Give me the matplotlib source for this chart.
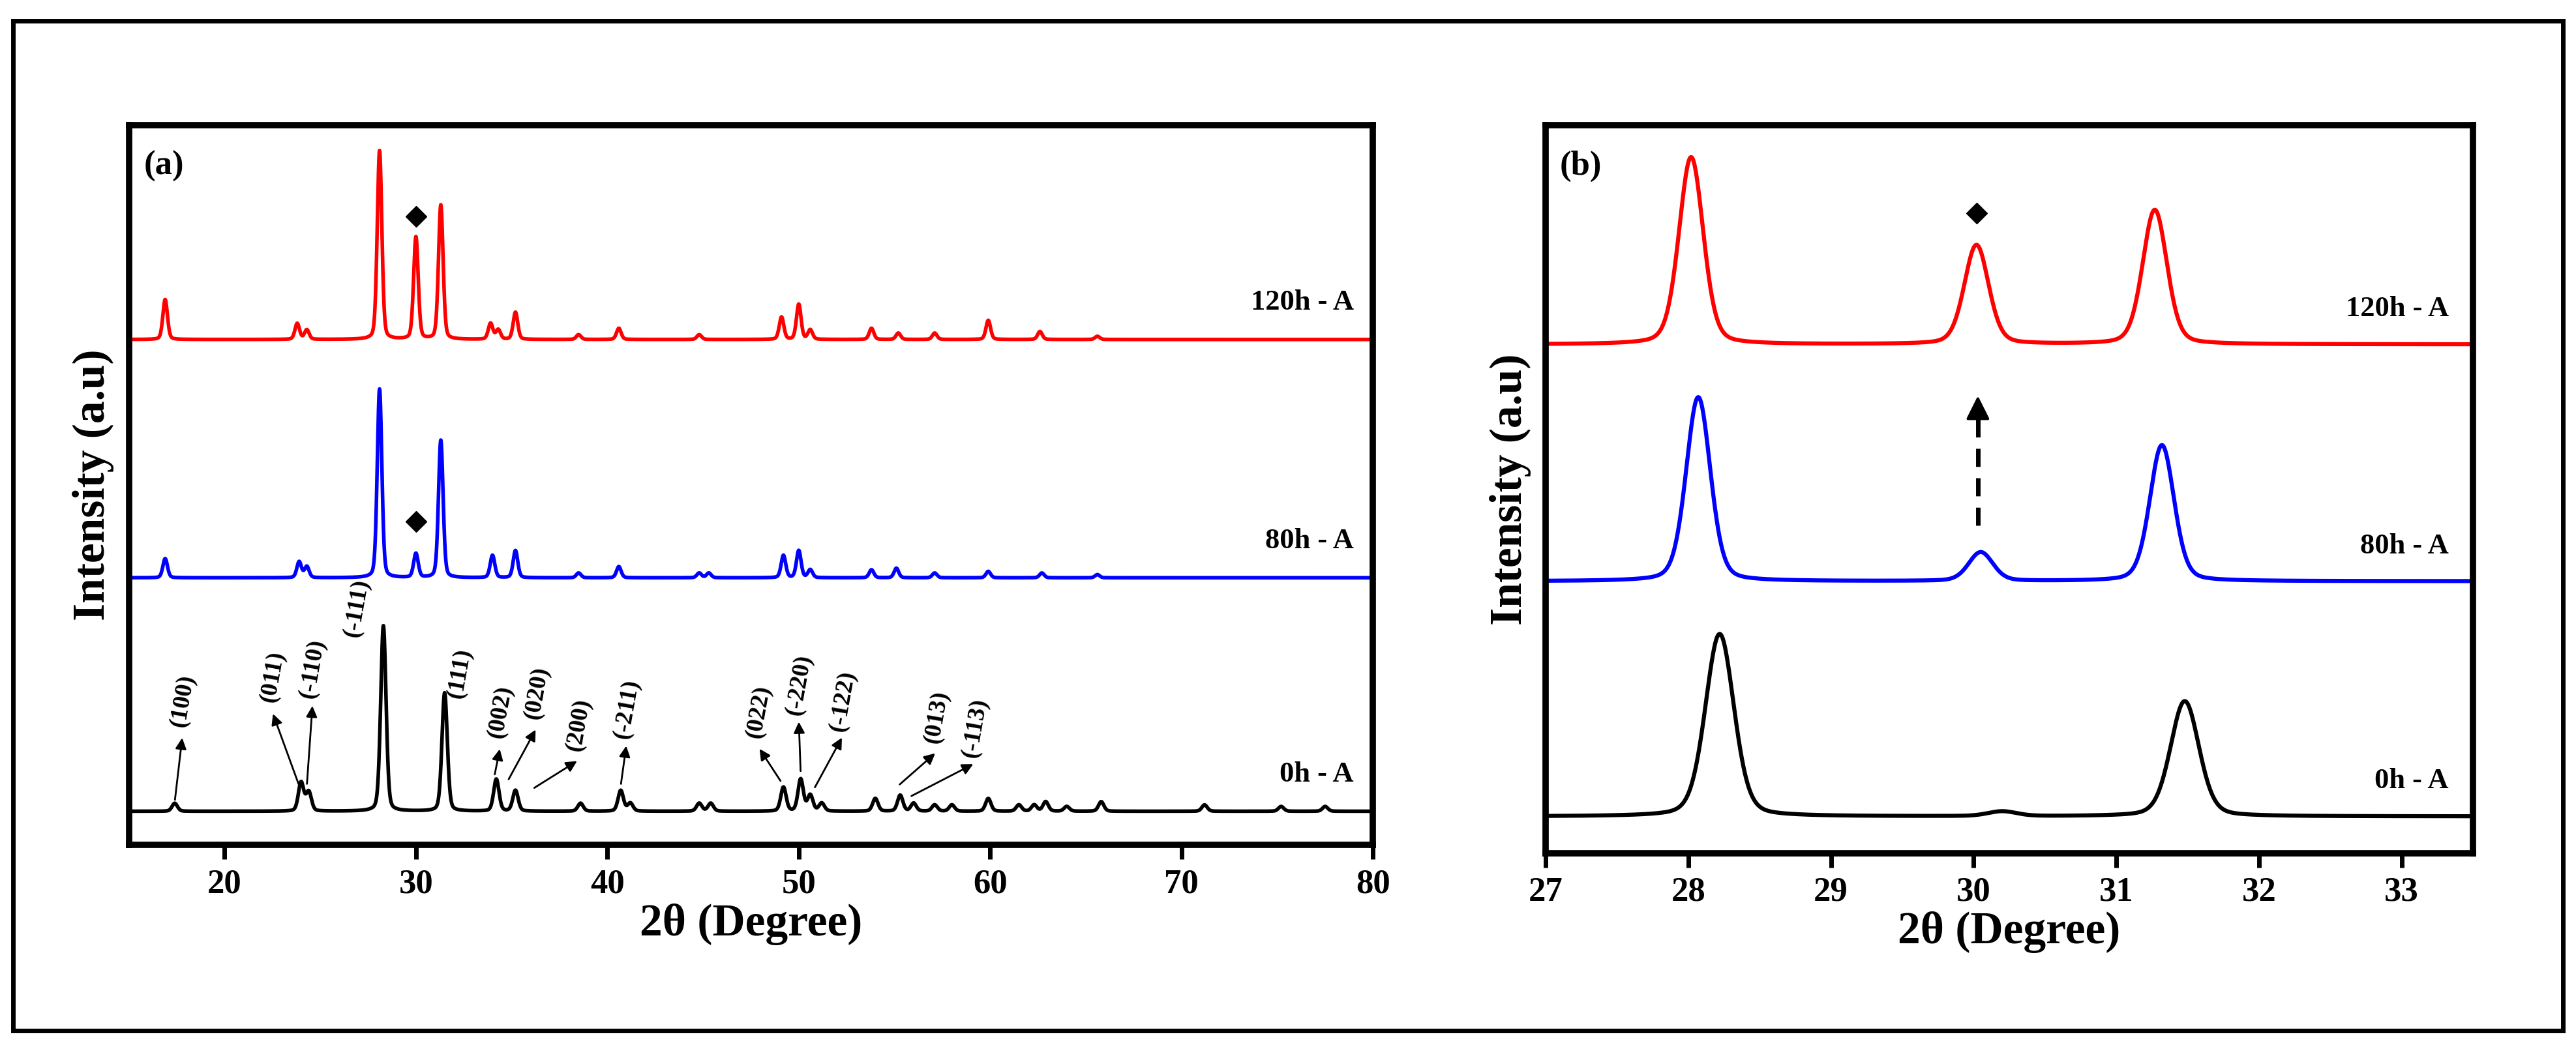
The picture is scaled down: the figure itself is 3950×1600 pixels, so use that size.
import matplotlib.pyplot as plt
import numpy as np
from matplotlib.patches import Rectangle

plt.rcParams['font.family'] = ['Liberation Serif', 'DejaVu Serif']
plt.rcParams['font.weight'] = 'bold'

# ---- panel (a) peak data: position (deg), height (a.u.) ----
a_black_pos = [17.4, 24.0, 24.4, 28.3, 31.5, 34.2, 35.2, 38.6, 40.7, 41.2, 44.8, 45.4, 49.2, 50.1, 50.6, 51.2,
               54.0, 55.3, 56.0, 57.1, 58.0, 59.9, 61.5, 62.3, 62.9, 64.0, 65.8, 71.2, 75.2, 77.5]
a_black_h = [5, 18, 12, 116, 74, 20, 13, 5, 13, 5, 5, 5, 15, 20, 10, 5,
             8, 10, 5, 4, 4, 8, 4, 4, 6, 3, 6, 4, 3, 3]
a_blue_pos = [16.9, 23.9, 24.3, 28.1, 30.0, 31.3, 34.0, 35.2, 38.5, 40.6, 44.8, 45.3, 49.2, 50.0, 50.6,
              53.8, 55.1, 57.1, 59.9, 62.7, 65.6]
a_blue_h = [12, 10, 7, 118, 15, 86, 14, 17, 3, 7, 3, 3, 14, 17, 5, 5, 6, 3, 4, 3, 2]
a_red_pos = [16.9, 23.8, 24.3, 28.1, 30.0, 31.3, 33.9, 34.3, 35.2, 38.5, 40.6, 44.8, 49.1, 50.0, 50.6,
             53.8, 55.2, 57.1, 59.9, 62.6, 65.6]
a_red_h = [25, 10, 6, 118, 64, 84, 10, 6, 17, 3, 7, 3, 14, 22, 6, 7, 4, 4, 12, 5, 2]
a_offsets = [21, 167, 316]
sample_labels = ['0h - A', '80h - A', '120h - A']

# ---- panel (b) peak data ----
b_black_pos = [28.22, 30.2, 31.48]
b_black_h = [114, 3, 72]
b_blue_pos = [28.07, 30.05, 31.32]
b_blue_h = [115, 18, 85]
b_red_pos = [28.02, 30.02, 31.27]
b_red_h = [117, 62, 84]
b_offsets = [23, 170, 318]

# Miller index labels: text, peak x, arrow tail y, text x, text y, has arrow
hkl = [('(100)', 17.4, 27, 17.8, 90, True),
       ('(011)', 23.9, 37, 22.5, 105, True),
       ('(-110)', 24.3, 37, 24.6, 110, True),
       ('(-111)', 28.3, 0, 26.9, 148, False),
       ('(111)', 31.5, 0, 32.3, 107, False),
       ('(002)', 34.1, 43, 34.4, 83, True),
       ('(020)', 34.8, 40, 36.3, 95, True),
       ('(200)', 36.1, 35, 38.5, 75, True),
       ('(-211)', 40.7, 37, 41.0, 85, True),
       ('(022)', 49.1, 39, 47.9, 83, True),
       ('(-220)', 50.1, 45, 50.0, 100, True),
       ('(-122)', 50.8, 35, 52.3, 90, True),
       ('(013)', 55.2, 37, 57.2, 80, True),
       ('(-113)', 55.8, 30, 59.2, 73, True)]

colors = ['black', 'blue', 'red']


def profile(x, pos, h, w):
    y = np.zeros_like(x)
    for p, hh in zip(pos, h):
        g = np.exp(-0.5 * ((x - p) / w) ** 2)
        l = 1.0 / (1.0 + ((x - p) / (1.2 * w)) ** 2)
        y += hh * (0.75 * g + 0.25 * l)
    return y


fig = plt.figure(figsize=(39.5, 16), dpi=100)
fig.patches.append(Rectangle((0.005, 0.012), 0.99, 0.968, transform=fig.transFigure,
                             fill=False, lw=5, edgecolor='black'))

axa = fig.add_axes([0.05, 0.19, 0.483, 0.69])
axb = fig.add_axes([0.6, 0.182, 0.36, 0.698])

xa = np.linspace(15, 80, 8000)
a_sets = [(a_black_pos, a_black_h, 0.14), (a_blue_pos, a_blue_h, 0.12), (a_red_pos, a_red_h, 0.12)]
for (pos, h, w), off, c, lab in zip(a_sets, a_offsets, colors, sample_labels):
    axa.plot(xa, off + profile(xa, pos, h, w), color=c, lw=4)
    axa.text(79, off + 23, lab, ha='right', va='center', fontsize=32, fontweight='bold')
axa.plot([30.0, 30.0], [393, 202], 'D', color='black', markersize=16, ls='none')
for t, px, ty, tx, tyy, arrow in hkl:
    if arrow:
        axa.annotate('', xy=(tx, tyy - 22), xytext=(px, ty),
                     arrowprops=dict(arrowstyle='-|>', color='black', lw=2, mutation_scale=25))
    axa.text(tx, tyy, t, rotation=80, ha='center', va='center', fontsize=27, fontweight='bold')
axa.set_xlim(15, 80)
axa.set_ylim(0, 450)
axa.set_xticks([20, 30, 40, 50, 60, 70, 80])
axa.text(0.012, 0.965, '(a)', transform=axa.transAxes, fontsize=38, fontweight='bold', va='top')

xb = np.linspace(27, 33.5, 4000)
b_sets = [(b_black_pos, b_black_h, 0.1), (b_blue_pos, b_blue_h, 0.085), (b_red_pos, b_red_h, 0.085)]
for (pos, h, w), off, c, lab in zip(b_sets, b_offsets, colors, sample_labels):
    axb.plot(xb, off + profile(xb, pos, h, w), color=c, lw=4.5)
    axb.text(33.33, off + 22, lab, ha='right', va='center', fontsize=32, fontweight='bold')
axb.plot([30.02], [400], 'D', color='black', markersize=16)
axb.plot([30.03, 30.03], [205, 276], ls=(0, (4, 2.5)), color='black', lw=5)
axb.annotate('', xy=(30.03, 287), xytext=(30.03, 268),
             arrowprops=dict(arrowstyle='-|>', color='black', lw=3, mutation_scale=55))
axb.set_xlim(27, 33.5)
axb.set_ylim(0, 455)
axb.set_xticks([27, 28, 29, 30, 31, 32, 33])
axb.text(0.015, 0.965, '(b)', transform=axb.transAxes, fontsize=38, fontweight='bold', va='top')

for ax in (axa, axb):
    ax.set_yticks([])
    for s in ax.spines.values():
        s.set_linewidth(7)
    ax.tick_params(axis='x', direction='out', length=16, width=5, labelsize=38, pad=10)
    for lbl in ax.get_xticklabels():
        lbl.set_fontweight('bold')
    ax.set_xlabel('2θ (Degree)', fontsize=50, fontweight='bold', labelpad=4)
    ax.set_ylabel('Intensity (a.u)', fontsize=50, fontweight='bold', labelpad=16)

fig.savefig('out.png', dpi=100)
